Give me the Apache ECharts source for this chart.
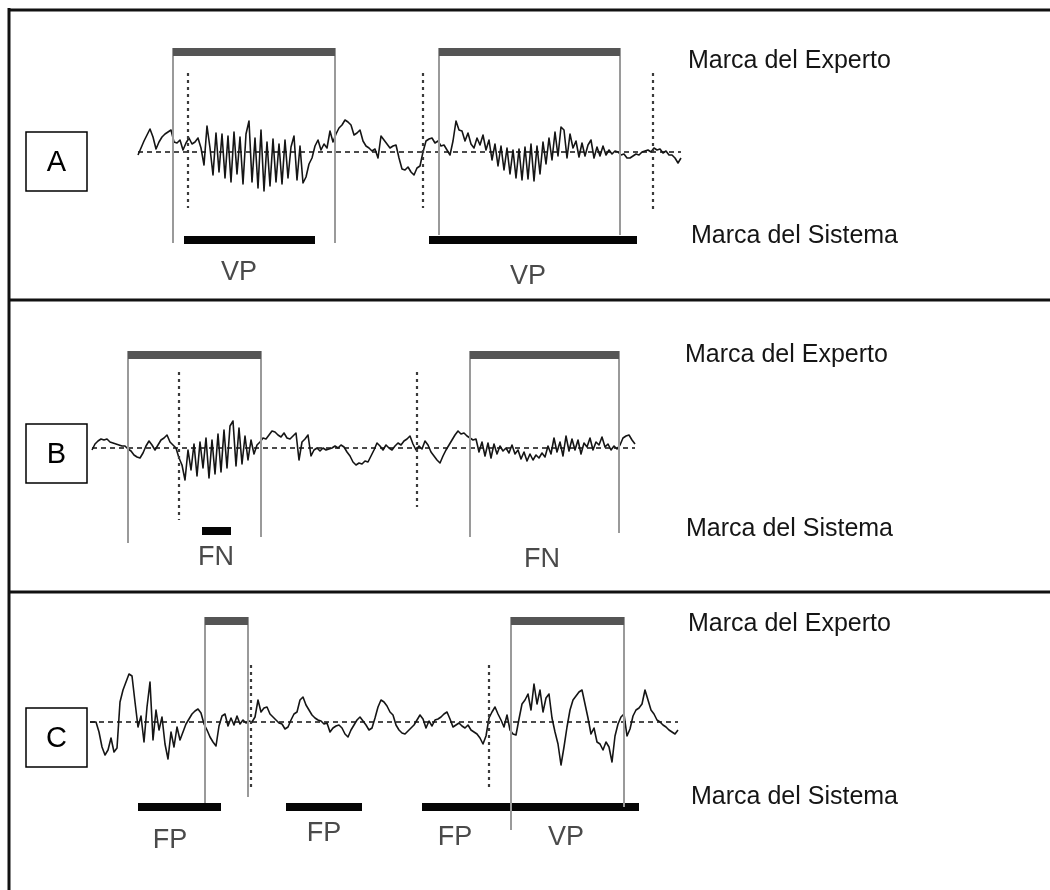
<!DOCTYPE html>
<html><head><meta charset="utf-8">
<script src="https://cdn.jsdelivr.net/npm/echarts@6/dist/echarts.min.js"></script>
<style>html,body{margin:0;padding:0;background:#fff}#c{width:1050px;height:890px}</style>
</head><body><div id="c"></div>
<script>
// ---------- DATA ----------
// Panel A
const panelNameA = 'A';
const signalStartA = 138, signalStepA = 3;
const signalA = [-3,4,11,17,23,15,3,10,15,18,20,22,10,9,12,2,9,14,8,10,14,4,-13,26,4,-23,19,
-20,18,-26,16,-30,20,-22,15,-32,18,31,-30,14,-36,22,-39,10,-34,13,-30,8,-32,12,-26,5,16,-28,6,-31,
-25,-12,-6,6,12,2,8,4,21,10,18,24,27,32,30,27,17,19,22,11,6,4,1,3,-6,16,12,8,4,6,
7,-6,-17,-18,-15,-20,-23,-16,-14,0,11,13,14,9,11,6,7,2,-3,11,31,22,21,11,19,8,4,14,7,17,2,
12,-8,8,-14,6,-18,4,-22,2,-26,3,-28,5,-27,8,-29,6,-22,10,-12,14,-8,20,-4,25,22,-6,18,4,11,
-5,9,-4,7,12,-6,5,-4,6,-3,2,-2,1,0,-3,-2,-6,-6,-4,-2,-3,0,1,2,0,4,2,3,-1,1,-3,-3,-6,-11,-6];
const expertA = [[173,335],[439,620]];
const systemDotsA = [188,423,653];
const systemBarsA = [[184,315],[429,637]];
const resultLabelsA = ['VP','VP'];

// Panel B
const panelNameB = 'B';
const signalStartB = 92, signalStepB = 3;
const signalB = [-2,4,7,9,8,9,6,5,4,3,2,2,-1,-3,-7,-9,-10,-5,2,7,3,-2,3,8,10,13,6,3,0,-10,
-17,-32,-2,-22,4,-28,6,-20,10,-30,8,-26,14,-24,18,-20,22,27,-18,20,-16,12,-12,8,-6,3,6,10,9,13,
17,16,13,11,15,10,9,12,15,-12,6,9,13,-8,-2,0,-3,0,-2,-1,0,2,0,3,1,-4,-8,-14,-17,-15,
-16,-13,-14,-8,-2,5,2,-2,3,0,-2,2,5,3,7,9,12,4,-2,2,-1,7,3,-4,-8,-12,-15,-8,-2,3,
8,13,17,14,15,12,10,8,9,-4,6,-8,5,-10,4,-6,2,-3,0,-5,3,-6,-2,-11,-4,-13,-6,-12,-7,-10,
-5,-9,2,-6,10,-4,6,-8,12,-3,9,-2,8,-6,5,1,10,-2,6,3,11,1,4,-2,2,-1,3,10,12,13,8,4];
const expertB = [[128,261],[470,619]];
const systemDotsB = [179,417];
const systemBarsB = [[202,231]];
const resultLabelsB = ['FN','FN'];

// Panel C
const panelNameC = 'C';
const signalStartC = 90, signalStepC = 3;
const signalC = [0,0,0,-10,-25,-33,-28,-16,-30,-26,20,32,40,48,46,20,-5,6,-20,15,
40,-18,12,-8,5,-22,-37,-10,-25,-5,-18,-10,-2,3,8,11,13,9,-2,-8,
-15,-20,-24,-4,6,8,-4,4,-3,6,-2,2,-1,1,0,5,22,10,14,15,
8,5,2,-1,-2,-7,-5,2,8,10,22,25,17,12,7,4,2,1,-2,-1,
-10,-6,-4,-3,-6,-12,-15,-8,-3,2,5,1,-3,-8,-6,4,15,22,20,16,
10,7,-3,-8,-11,-12,-9,-6,-3,2,7,3,-6,1,-4,2,3,5,8,10,
3,-5,-3,-1,-4,-6,-3,-8,-10,-12,-16,-22,-14,4,10,15,8,2,-5,7,
-8,-12,-13,3,18,22,28,12,38,18,32,10,24,28,4,-10,-22,-43,-25,-5,
12,22,26,30,32,18,4,-12,-6,-20,-22,-28,-20,-25,-40,-14,-2,5,8,-14,
-7,6,12,14,18,32,22,12,8,2,0,-3,-5,-8,-10,-12,-8];
const expertC = [[205,248],[511,624]];
const systemDotsC = [251,489];
const systemBarsC = [[138,221],[286,362],[422,639]];
const resultLabelsC = ['FP','FP','FP','VP'];

const legendExpert = 'Marca del Experto';
const legendSystem = 'Marca del Sistema';

// ---------- LAYOUT (positions / sizes, kept apart from data) ----------
const layout = [
  {top:10, bottom:300, base:152, expertLevel:100, expertBottoms:[[-91,-91],[-83,-83]],
   dotTop:79, dotBottoms:[-56,-56,-58], sysLevel:-88,
   labelX:[239,528], labelY:[-121,-125],
   box:{x:26,y:132,w:61,h:59}, expertTextY:61, systemTextY:236, expertTextX:688, systemTextX:691},
  {top:300, bottom:592, base:448, expertLevel:93, expertBottoms:[[-95,-89],[-89,-85]],
   dotTop:76, dotBottoms:[-72,-59], sysLevel:-83,
   labelX:[216,542], labelY:[-110,-112],
   box:{x:26,y:424,w:61,h:59}, expertTextY:355, systemTextY:529, expertTextX:685, systemTextX:686},
  {top:592, bottom:890, base:722, expertLevel:101, expertBottoms:[[-81,-75],[-108,-85]],
   dotTop:57, dotBottoms:[-66,-65], sysLevel:-85,
   labelX:[170,324,455,566], labelY:[-119,-112,-116,-116],
   box:{x:26,y:708,w:61,h:59}, expertTextY:624, systemTextY:797, expertTextX:688, systemTextX:691}
];

const panels = [
  {name:panelNameA, start:signalStartA, step:signalStepA, signal:signalA, expert:expertA, dots:systemDotsA, bars:systemBarsA, labels:resultLabelsA},
  {name:panelNameB, start:signalStartB, step:signalStepB, signal:signalB, expert:expertB, dots:systemDotsB, bars:systemBarsB, labels:resultLabelsB},
  {name:panelNameC, start:signalStartC, step:signalStepC, signal:signalC, expert:expertC, dots:systemDotsC, bars:systemBarsC, labels:resultLabelsC}
];

const FONT = '"Liberation Sans", Arial, sans-serif';
const grids = [], xAxes = [], yAxes = [], series = [], graphics = [];

panels.forEach((p, i) => {
  const L = layout[i];
  grids.push({left:0, right:0, top:L.top, height:L.bottom - L.top});
  xAxes.push({type:'value', gridIndex:i, min:0, max:1050, show:false});
  yAxes.push({type:'value', gridIndex:i, min:-(L.bottom - L.base), max:L.base - L.top, show:false});
  const sigData = p.signal.map((v,k) => [p.start + p.step*k, v]);
  const endX = p.start + p.step*(p.signal.length-1);

  // dashed baseline
  series.push({type:'line', xAxisIndex:i, yAxisIndex:i, data:[[p.start,0],[endX,0]],
    symbol:'none', silent:true, z:2,
    lineStyle:{color:'#111', width:1.3, type:[5,4]}});
  // signal
  series.push({type:'line', xAxisIndex:i, yAxisIndex:i, data:sigData, symbol:'none',
    silent:true, z:3, lineStyle:{color:'#151515', width:1.6, join:'round'}});
  // system bars
  series.push({type:'custom', xAxisIndex:i, yAxisIndex:i, z:4, silent:true,
    data:p.bars.map(b => [b[0], b[1]]),
    renderItem:(params, api) => {
      const a = api.coord([api.value(0), L.sysLevel]);
      const b = api.coord([api.value(1), L.sysLevel]);
      return {type:'rect', shape:{x:a[0], y:a[1]-4, width:b[0]-a[0], height:8}, style:{fill:'#050505'}};
    }});
  // system dotted lines
  series.push({type:'custom', xAxisIndex:i, yAxisIndex:i, z:5, silent:true,
    data:p.dots.map(d => [d, 0]),
    renderItem:(params, api) => {
      const t = api.coord([api.value(0), L.dotTop]);
      const b = api.coord([api.value(0), L.dotBottoms[params.dataIndex]]);
      return {type:'line', shape:{x1:t[0], y1:t[1], x2:b[0], y2:b[1]},
        style:{stroke:'#3a3a3a', lineWidth:2.2, lineDash:[3,4]}};
    }});
  // expert marks
  series.push({type:'custom', xAxisIndex:i, yAxisIndex:i, z:6, silent:true,
    data:p.expert.map(e => [e[0], e[1]]),
    renderItem:(params, api) => {
      const bt = L.expertBottoms[params.dataIndex];
      const a = api.coord([api.value(0), L.expertLevel]);
      const b = api.coord([api.value(1), L.expertLevel]);
      const al = api.coord([api.value(0), bt[0]]);
      const bl = api.coord([api.value(1), bt[1]]);
      return {type:'group', children:[
        {type:'line', shape:{x1:a[0], y1:a[1]-4, x2:al[0], y2:al[1]}, style:{stroke:'#9a9a9a', lineWidth:2}},
        {type:'line', shape:{x1:b[0], y1:b[1]-4, x2:bl[0], y2:bl[1]}, style:{stroke:'#9a9a9a', lineWidth:2}},
        {type:'rect', shape:{x:a[0], y:a[1]-4, width:b[0]-a[0], height:8}, style:{fill:'#555'}}
      ]};
    }});
  // result labels
  series.push({type:'custom', xAxisIndex:i, yAxisIndex:i, z:7, silent:true,
    data:p.labels.map((t,k) => [L.labelX[k], L.labelY[k]]),
    renderItem:(params, api) => {
      const c = api.coord([api.value(0), api.value(1)]);
      return {type:'text', style:{text:p.labels[params.dataIndex], x:c[0], y:c[1],
        font:'27px ' + FONT, fill:'#4a4a4a', align:'center', verticalAlign:'middle'}};
    }});

  // panel letter box
  graphics.push({type:'rect', shape:{x:L.box.x, y:L.box.y, width:L.box.w, height:L.box.h},
    style:{fill:'#fff', stroke:'#000', lineWidth:1.5}, z:10});
  graphics.push({type:'text', x:L.box.x + L.box.w/2, y:L.box.y + L.box.h/2 + 1,
    style:{text:p.name, font:'29px ' + FONT, fill:'#000', align:'center', verticalAlign:'middle'}, z:11});
  // right-hand legends
  graphics.push({type:'text', x:L.expertTextX, y:L.expertTextY,
    style:{text:legendExpert, font:'25px ' + FONT, fill:'#151515', align:'left', verticalAlign:'middle'}, z:11});
  graphics.push({type:'text', x:L.systemTextX, y:L.systemTextY,
    style:{text:legendSystem, font:'25px ' + FONT, fill:'#151515', align:'left', verticalAlign:'middle'}, z:11});
});

// frame lines
[[8,10,1050,10],[9,8,9,890],[8,300,1050,300],[8,592,1050,592]].forEach(l => {
  graphics.push({type:'line', shape:{x1:l[0], y1:l[1], x2:l[2], y2:l[3]},
    style:{stroke:'#111', lineWidth:3}, z:12});
});

const chart = echarts.init(document.getElementById('c'), null, {renderer:'canvas'});
chart.setOption({
  animation:false,
  backgroundColor:'#fff',
  grid:grids, xAxis:xAxes, yAxis:yAxes, series:series, graphic:graphics
});
</script></body></html>
